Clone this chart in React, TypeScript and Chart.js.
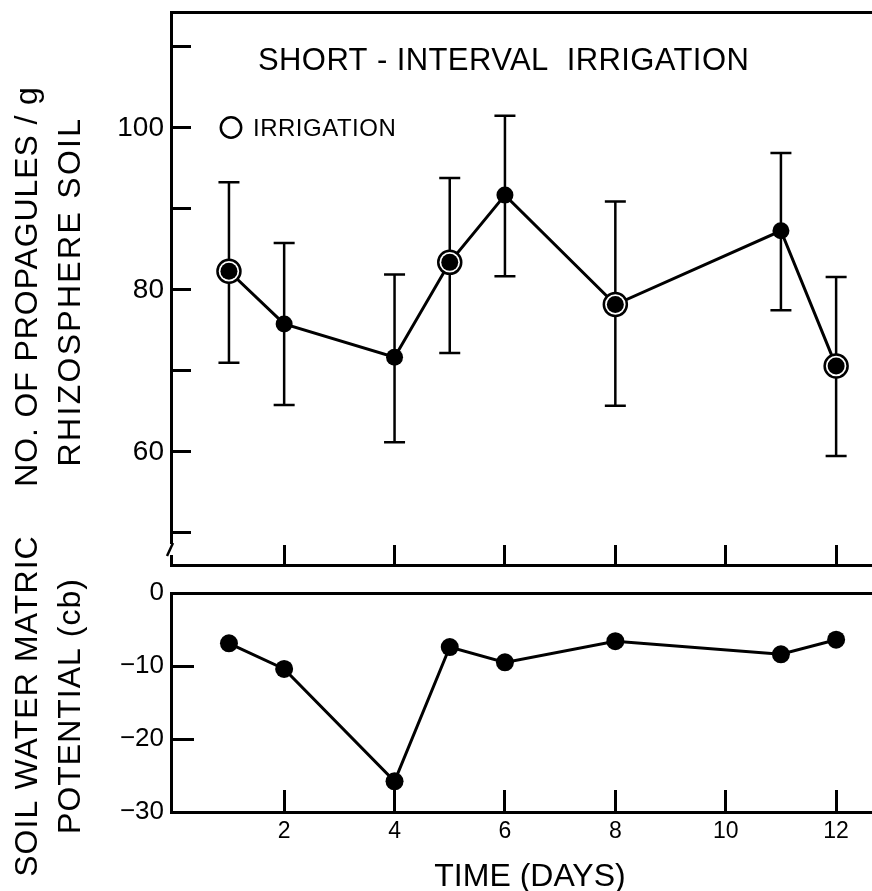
import React, { useEffect, useRef } from 'react';
import { Chart, registerables } from 'chart.js';

Chart.register(...registerables);

// ---- data ----
const DAYS = [1, 2, 4, 5, 6, 8, 11, 12];
const IRRIGATION_DAYS = [1, 5, 8, 12];
const PROPAGULES = [82.3, 75.8, 71.7, 83.4, 91.7, 78.2, 87.3, 70.6];
const PROPAGULES_UPPER = [93.3, 85.8, 81.9, 93.8, 101.5, 90.9, 96.9, 81.6];
const PROPAGULES_LOWER = [71.0, 65.8, 61.2, 72.2, 81.7, 65.7, 77.5, 59.5];
const MATRIC_POTENTIAL = [-6.9, -10.4, -25.8, -7.4, -9.5, -6.6, -8.4, -6.4];

const X_TICKS = [2, 4, 6, 8, 10, 12];
const TOP_Y_TICKS = [50, 60, 70, 80, 90, 100, 110];
const TOP_Y_LABELED = [60, 80, 100];
const BOTTOM_Y_TICKS = [0, -10, -20, -30];

const PANEL_TITLE = 'SHORT - INTERVAL  IRRIGATION';
const LEGEND_LABEL = 'IRRIGATION';
const TOP_Y_TITLE = ['NO. OF PROPAGULES / g', 'RHIZOSPHERE SOIL'];
const BOTTOM_Y_TITLE = ['SOIL WATER MATRIC', 'POTENTIAL (cb)'];
const X_TITLE = 'TIME (DAYS)';

// ---- layout / style ----
const FONT = "'Liberation Sans', Arial, sans-serif";
const X_MIN = -0.05;
const X_MAX = 12.65;
const BLACK = '#000';
const BOTTOM_CANVAS_TOP = 500;

function text(ctx: CanvasRenderingContext2D, s: string, x: number, y: number, size: number,
  opts: { align?: CanvasTextAlign; rotate?: boolean; spacing?: number } = {}) {
  ctx.save();
  ctx.font = `${size}px ${FONT}`;
  ctx.fillStyle = BLACK;
  ctx.textBaseline = 'alphabetic';
  (ctx as any).letterSpacing = `${opts.spacing || 0}px`;
  ctx.translate(x, y);
  if (opts.rotate) ctx.rotate(-Math.PI / 2);
  ctx.textAlign = opts.align || 'left';
  ctx.fillText(s, 0, 0);
  ctx.restore();
}

function xScales(tickLen: number, showLabels: boolean, height: number) {
  return {
    x: {
      type: 'linear',
      position: 'bottom',
      min: X_MIN,
      max: X_MAX,
      afterBuildTicks: (s: any) => { s.ticks = X_TICKS.map((v) => ({ value: v })); },
      ticks: {
        display: showLabels,
        autoSkip: false,
        maxRotation: 0,
        color: BLACK,
        padding: 28,
        font: { family: FONT, size: 23 },
        callback: (v: any) => String(v),
      },
      grid: {
        display: true, drawOnChartArea: false, drawTicks: true,
        tickLength: -tickLen, tickWidth: 3, tickColor: BLACK,
      },
      border: { display: true, color: BLACK, width: 3 },
      afterFit: (s: any) => { s.height = height; s.paddingLeft = 0; s.paddingRight = 0; },
    },
    xTop: {
      type: 'linear',
      position: 'top',
      min: X_MIN,
      max: X_MAX,
      ticks: { display: false },
      grid: { display: false },
      border: { display: true, color: BLACK, width: 3 },
      afterFit: (s: any) => { s.height = 0; s.paddingLeft = 0; s.paddingRight = 0; },
    },
  };
}

function topConfig(): any {
  const linePts = DAYS.map((d, i) => ({ x: d, y: PROPAGULES[i] }));
  const ringPts = IRRIGATION_DAYS.map((d) => ({ x: d, y: PROPAGULES[DAYS.indexOf(d)] }));
  const decor = {
    id: 'topDecor',
    beforeDatasetsDraw(chart: any) {
      const { ctx, scales: { x, y } } = chart;
      ctx.save();
      ctx.strokeStyle = BLACK;
      ctx.lineWidth = 2.5;
      DAYS.forEach((d, i) => {
        const px = x.getPixelForValue(d);
        const pt = y.getPixelForValue(PROPAGULES_UPPER[i]);
        const pb = y.getPixelForValue(PROPAGULES_LOWER[i]);
        ctx.beginPath();
        ctx.moveTo(px, pt); ctx.lineTo(px, pb);
        ctx.moveTo(px - 10.5, pt); ctx.lineTo(px + 10.5, pt);
        ctx.moveTo(px - 10.5, pb); ctx.lineTo(px + 10.5, pb);
        ctx.stroke();
      });
      ctx.restore();
    },
    afterDraw(chart: any) {
      const { ctx, chartArea: ca } = chart;
      text(ctx, PANEL_TITLE, ca.left + 87, ca.top + 58, 31, { spacing: 0.4 });
      // legend
      ctx.save();
      ctx.strokeStyle = BLACK;
      ctx.lineWidth = 2.5;
      ctx.beginPath();
      ctx.arc(ca.left + 60, ca.top + 115.5, 10.2, 0, Math.PI * 2);
      ctx.stroke();
      ctx.restore();
      text(ctx, LEGEND_LABEL, ca.left + 82, ca.top + 123.5, 24, { spacing: 0.5 });
      // y title
      const mid = (ca.top + ca.bottom) / 2;
      text(ctx, TOP_Y_TITLE[0], 37, mid - 2, 32, { rotate: true, align: 'center', spacing: 0.9 });
      text(ctx, TOP_Y_TITLE[1], 80, mid + 3, 32, { rotate: true, align: 'center', spacing: 2.3 });
      // axis break mark
      ctx.save();
      ctx.fillStyle = '#fff';
      ctx.fillRect(ca.left - 3, ca.bottom - 21, 6, 11);
      ctx.strokeStyle = BLACK;
      ctx.lineWidth = 2.5;
      ctx.beginPath();
      ctx.moveTo(ca.left + 2, ca.bottom - 22);
      ctx.lineTo(ca.left - 4, ca.bottom - 9);
      ctx.stroke();
      ctx.restore();
    },
  };
  return {
    type: 'line',
    data: {
      datasets: [
        { data: linePts, borderColor: BLACK, borderWidth: 3, pointRadius: 0, tension: 0, order: 3 },
        {
          data: ringPts, showLine: false, pointRadius: 11.5, pointBorderWidth: 2.5,
          pointBackgroundColor: '#fff', pointBorderColor: BLACK, order: 2,
        },
        {
          data: linePts, showLine: false, pointRadius: 8.5, pointBorderWidth: 0,
          pointBackgroundColor: BLACK, order: 1,
        },
      ],
    },
    options: {
      animation: false,
      responsive: false,
      devicePixelRatio: 1,
      events: [],
      layout: { autoPadding: false, padding: { top: 12, left: 0, right: 0, bottom: 0 } },
      plugins: { legend: { display: false }, tooltip: { enabled: false } },
      scales: {
        ...xScales(20, false, 15),
        y: {
          type: 'linear',
          position: 'left',
          min: 46.05,
          max: 114.3,
          afterBuildTicks: (s: any) => { s.ticks = TOP_Y_TICKS.map((v) => ({ value: v })); },
          ticks: {
            autoSkip: false,
            color: BLACK,
            padding: 27,
            font: { family: FONT, size: 28 },
            callback: (v: any) => (TOP_Y_LABELED.includes(v) ? String(v) : ''),
          },
          grid: {
            display: true, drawOnChartArea: false, drawTicks: true,
            tickLength: -20, tickWidth: 3, tickColor: BLACK,
          },
          border: { display: true, color: BLACK, width: 3 },
          afterFit: (s: any) => { s.width = 171; s.paddingTop = 0; s.paddingBottom = 0; },
        },
      },
    },
    plugins: [decor],
  };
}

function bottomConfig(): any {
  const pts = DAYS.map((d, i) => ({ x: d, y: MATRIC_POTENTIAL[i] }));
  const decor = {
    id: 'bottomDecor',
    afterDraw(chart: any) {
      const { ctx, chartArea: ca } = chart;
      const mid = (ca.top + ca.bottom) / 2;
      text(ctx, BOTTOM_Y_TITLE[0], 37, mid + 3.5, 32, { rotate: true, align: 'center', spacing: 1.1 });
      text(ctx, BOTTOM_Y_TITLE[1], 80, mid + 3.5, 32, { rotate: true, align: 'center', spacing: 1 });
      text(ctx, X_TITLE, 530, ca.bottom + 74, 32, { align: 'center' });
    },
  };
  return {
    type: 'line',
    data: {
      datasets: [
        {
          data: pts, borderColor: BLACK, borderWidth: 3, tension: 0,
          pointRadius: 9, pointBorderWidth: 0, pointBackgroundColor: BLACK,
        },
      ],
    },
    options: {
      animation: false,
      responsive: false,
      devicePixelRatio: 1,
      events: [],
      layout: { autoPadding: false, padding: { top: 593 - BOTTOM_CANVAS_TOP, left: 0, right: 0, bottom: 0 } },
      plugins: { legend: { display: false }, tooltip: { enabled: false } },
      scales: {
        ...xScales(22, true, 79),
        y: {
          type: 'linear',
          position: 'left',
          min: -30,
          max: 0,
          afterBuildTicks: (s: any) => { s.ticks = BOTTOM_Y_TICKS.map((v) => ({ value: v })); },
          ticks: {
            autoSkip: false,
            color: BLACK,
            padding: 30,
            font: { family: FONT, size: 26 },
            callback: (v: any) => (v < 0 ? '\u2212' + Math.abs(v) : String(v)),
          },
          grid: {
            display: true, drawOnChartArea: false, drawTicks: true,
            tickLength: -23, tickWidth: 3, tickColor: BLACK,
          },
          border: { display: true, color: BLACK, width: 3 },
          afterFit: (s: any) => { s.width = 171; s.paddingTop = 0; s.paddingBottom = 0; },
        },
      },
    },
    plugins: [decor],
  };
}

export default function App() {
  const topRef = useRef<HTMLCanvasElement>(null);
  const bottomRef = useRef<HTMLCanvasElement>(null);
  useEffect(() => {
    const top = new Chart(topRef.current as HTMLCanvasElement, topConfig());
    const bottom = new Chart(bottomRef.current as HTMLCanvasElement, bottomConfig());
    return () => {
      top.destroy();
      bottom.destroy();
    };
  }, []);
  const bh = 891 - BOTTOM_CANVAS_TOP;
  return (
    <div style={{ position: 'absolute', left: 0, top: 0, width: 872, height: 891, background: '#fff', overflow: 'hidden' }}>
      <canvas ref={topRef} width={872} height={580}
        style={{ position: 'absolute', left: 0, top: 0, width: 872, height: 580 }} />
      <canvas ref={bottomRef} width={872} height={bh}
        style={{ position: 'absolute', left: 0, top: BOTTOM_CANVAS_TOP, width: 872, height: bh }} />
    </div>
  );
}
